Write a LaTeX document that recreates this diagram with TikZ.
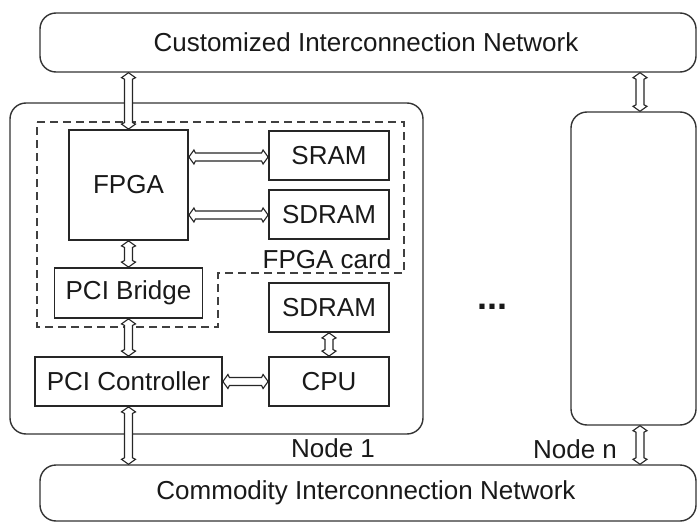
\documentclass[tikz,border=0pt]{standalone}
\usepackage{fontspec}
\setmainfont{Liberation Sans}
\usetikzlibrary{calc}
% hollow double-headed link between two named points
\newcommand\dlink[2]{%
  \draw[linkline] (#1)
    -- ($(#1)!5pt!(#2)!7pt!90:(#2)$) -- ($(#1)!6.5pt!(#2)!4pt!90:(#2)$)
    -- ($(#2)!6.5pt!(#1)!4pt!-90:(#1)$) -- ($(#2)!5pt!(#1)!7pt!-90:(#1)$)
    -- (#2)
    -- ($(#2)!5pt!(#1)!7pt!90:(#1)$) -- ($(#2)!6.5pt!(#1)!4pt!90:(#1)$)
    -- ($(#1)!6.5pt!(#2)!4pt!-90:(#2)$) -- ($(#1)!5pt!(#2)!7pt!-90:(#2)$)
    -- cycle;}
\begin{document}
\begin{tikzpicture}[x=1pt,y=-1pt,
  font=\fontsize{26}{29}\selectfont,
  every node/.style={text=black!90, inner sep=0pt},
  unit/.style={draw=black!85, line width=1.8pt, minimum width=#1},
  net/.style={draw=black!80, line width=1.4pt, rounded corners=16pt},
  card/.style={draw=black!75, line width=1.3pt, dash pattern=on 8pt off 5pt},
  linkline/.style={draw=black!85, line width=1.1pt, fill=white, line join=miter},
  lbl/.style={text=black!90}
]
\useasboundingbox (0,0) rectangle (697,522);

% interconnection networks
\node[net, minimum width=656pt, minimum height=59pt] (topnet) at (368,42.5)
  {\hspace*{-4pt}Customized Interconnection Network};
\node[net, minimum width=656pt, minimum height=56pt] (botnet) at (368,493)
  {\hspace*{-4pt}Commodity Interconnection Network};

% compute nodes
\node[net, minimum width=413pt, minimum height=331pt] (node1) at (216.5,268.5) {};
\node[net, minimum width=125pt, minimum height=313pt] (noden) at (633.5,268.5) {};

% FPGA card outline
\draw[card] (37,122) -- (404,122) -- (404,273) -- (218,273) -- (218,327) -- (37,327) -- cycle;

% components
\node[unit=119pt, minimum height=110pt] (fpga) at (128.5,185) {FPGA};
\node[unit=120pt, minimum height=49pt] (sram) at (329,155.5) {SRAM};
\node[unit=120pt, minimum height=49pt] (sdramA) at (329,214.5) {SDRAM};
\node[unit=148pt, minimum height=50pt] (bridge) at (128.5,293) {PCI Bridge};
\node[unit=120pt, minimum height=49pt] (sdramB) at (329,307.5) {SDRAM};
\node[unit=187pt, minimum height=49pt] (ctrl) at (128.5,381.5) {PCI Controller};
\node[unit=120pt, minimum height=49pt] (cpu) at (329,381.5) {CPU};

% labels
\node[lbl] (cardlbl) at (327,259) {FPGA card};
\node[lbl] (n1lbl) at (333,448) {Node 1};
\node[lbl] (nnlbl) at (575,449) {Node n};
\node[lbl, anchor=base, font=\fontsize{36}{40}\selectfont\bfseries] (dots) at (492,309) {...};

% link end points
\coordinate (nx) at (640,0);
\coordinate (fa) at (0,157);
\coordinate (fb) at (0,215);
\coordinate (t1) at (topnet.south -| fpga.north);
\coordinate (s1) at (fpga.east |- fa);
\coordinate (s2) at (sram.west |- fa);
\coordinate (d1) at (fpga.east |- fb);
\coordinate (d2) at (sdramA.west |- fb);
\coordinate (b1) at (fpga.south |- bridge.north);
\coordinate (b2) at (fpga.south |- bridge.south);
\coordinate (c1) at (fpga.south |- ctrl.north);
\coordinate (c2) at (fpga.south |- ctrl.south);
\coordinate (c3) at (fpga.south |- botnet.north);
\coordinate (p1) at (ctrl.east);
\coordinate (p2) at (cpu.west);
\coordinate (m1) at (sdramB.south);
\coordinate (m2) at (cpu.north);
\coordinate (n1) at (topnet.south -| nx);
\coordinate (n2) at (noden.north -| nx);
\coordinate (n3) at (noden.south -| nx);
\coordinate (n4) at (botnet.north -| nx);

% links
\dlink{t1}{fpga.north}
\dlink{s1}{s2}
\dlink{d1}{d2}
\dlink{fpga.south}{b1}
\dlink{b2}{c1}
\dlink{c2}{c3}
\dlink{p1}{p2}
\dlink{m1}{m2}
\dlink{n1}{n2}
\dlink{n3}{n4}
\end{tikzpicture}
\end{document}
